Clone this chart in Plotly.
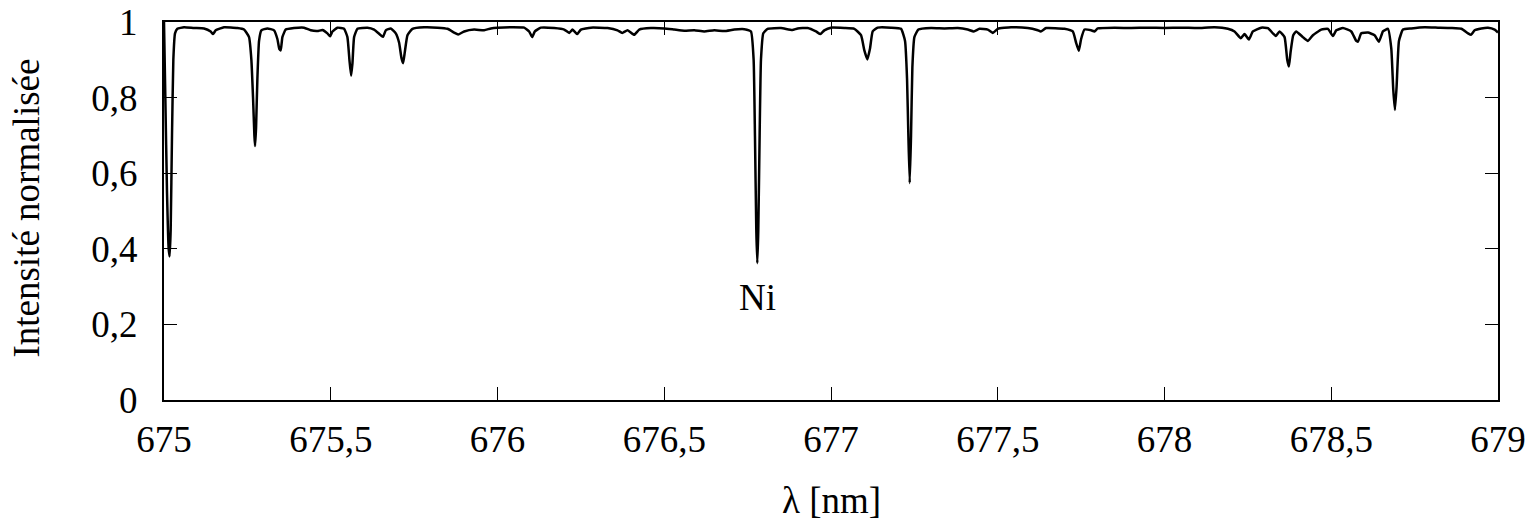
"""Normalised solar spectrum around the Ni 676.78 nm line."""

import plotly.graph_objects as go

# wavelength (nm) and normalised intensity
wavelength = [
    675.000, 675.004, 675.009, 675.014, 675.017, 675.020, 675.024, 675.028, 675.033, 675.040,
    675.060, 675.090, 675.120, 675.140, 675.147, 675.155, 675.180, 675.220, 675.240, 675.255,
    675.262, 675.267, 675.271, 675.273, 675.276, 675.280, 675.285, 675.292, 675.310, 675.330,
    675.340, 675.346, 675.350, 675.355, 675.365, 675.390, 675.420, 675.440, 675.460, 675.475,
    675.490, 675.498, 675.505, 675.520, 675.540, 675.550, 675.556, 675.561, 675.565, 675.570,
    675.580, 675.610, 675.630, 675.650, 675.657, 675.665, 675.680, 675.695, 675.705, 675.712,
    675.717, 675.722, 675.730, 675.745, 675.780, 675.820, 675.850, 675.870, 675.882, 675.900,
    675.930, 675.960, 675.980, 676.000, 676.040, 676.080, 676.095, 676.104, 676.112, 676.130,
    676.170, 676.200, 676.215, 676.225, 676.239, 676.250, 676.280, 676.330, 676.360, 676.374,
    676.390, 676.410, 676.425, 676.460, 676.500, 676.530, 676.560, 676.590, 676.620, 676.650,
    676.680, 676.710, 676.740, 676.760, 676.768, 676.772, 676.776, 676.779, 676.782, 676.786,
    676.790, 676.797, 676.810, 676.850, 676.884, 676.900, 676.930, 676.955, 676.968, 676.980,
    677.000, 677.040, 677.070, 677.090, 677.100, 677.109, 677.117, 677.125, 677.140, 677.180,
    677.210, 677.222, 677.228, 677.232, 677.236, 677.240, 677.244, 677.250, 677.262, 677.300,
    677.340, 677.380, 677.410, 677.428, 677.445, 677.470, 677.485, 677.500, 677.540, 677.590,
    677.620, 677.629, 677.645, 677.700, 677.725, 677.735, 677.743, 677.750, 677.760, 677.780,
    677.790, 677.800, 677.850, 677.900, 677.950, 678.000, 678.050, 678.100, 678.150, 678.190,
    678.210, 678.229, 678.240, 678.253, 678.265, 678.290, 678.310, 678.325, 678.334, 678.345,
    678.360, 678.368, 678.373, 678.378, 678.386, 678.395, 678.415, 678.430, 678.445, 678.470,
    678.490, 678.505, 678.515, 678.535, 678.560, 678.575, 678.580, 678.590, 678.610, 678.630,
    678.643, 678.655, 678.670, 678.680, 678.686, 678.691, 678.696, 678.703, 678.715, 678.740,
    678.780, 678.820, 678.860, 678.890, 678.910, 678.919, 678.930, 678.950, 678.970, 678.990,
    679.000,
]
intensity = [
    1.000, 0.800, 0.550, 0.400, 0.380, 0.450, 0.700, 0.900, 0.970, 0.982,
    0.986, 0.984, 0.983, 0.975, 0.968, 0.978, 0.986, 0.984, 0.980, 0.960,
    0.900, 0.800, 0.700, 0.672, 0.720, 0.850, 0.950, 0.978, 0.983, 0.978,
    0.955, 0.928, 0.925, 0.960, 0.980, 0.984, 0.985, 0.978, 0.976, 0.979,
    0.970, 0.962, 0.975, 0.985, 0.982, 0.960, 0.900, 0.858, 0.890, 0.960,
    0.982, 0.985, 0.980, 0.965, 0.961, 0.978, 0.983, 0.970, 0.945, 0.905,
    0.891, 0.920, 0.965, 0.982, 0.986, 0.985, 0.982, 0.972, 0.967, 0.975,
    0.980, 0.978, 0.983, 0.985, 0.986, 0.985, 0.975, 0.960, 0.975, 0.985,
    0.984, 0.980, 0.971, 0.980, 0.968, 0.980, 0.985, 0.984, 0.978, 0.971,
    0.978, 0.966, 0.980, 0.984, 0.983, 0.980, 0.977, 0.978, 0.975, 0.978,
    0.976, 0.980, 0.981, 0.975, 0.900, 0.700, 0.450, 0.362, 0.450, 0.700,
    0.900, 0.970, 0.982, 0.984, 0.979, 0.983, 0.984, 0.975, 0.968, 0.978,
    0.985, 0.984, 0.982, 0.965, 0.925, 0.901, 0.930, 0.975, 0.985, 0.985,
    0.982, 0.950, 0.850, 0.700, 0.574, 0.700, 0.880, 0.960, 0.980, 0.984,
    0.983, 0.984, 0.980, 0.975, 0.982, 0.980, 0.971, 0.982, 0.986, 0.984,
    0.978, 0.975, 0.984, 0.982, 0.975, 0.945, 0.924, 0.955, 0.980, 0.978,
    0.975, 0.983, 0.985, 0.984, 0.985, 0.984, 0.985, 0.984, 0.986, 0.982,
    0.975, 0.957, 0.968, 0.954, 0.975, 0.985, 0.984, 0.970, 0.963, 0.975,
    0.960, 0.900, 0.882, 0.920, 0.965, 0.975, 0.960, 0.950, 0.965, 0.980,
    0.982, 0.963, 0.978, 0.984, 0.975, 0.950, 0.948, 0.970, 0.972, 0.965,
    0.948, 0.975, 0.982, 0.930, 0.820, 0.767, 0.830, 0.950, 0.980, 0.983,
    0.986, 0.985, 0.984, 0.982, 0.970, 0.966, 0.978, 0.983, 0.985, 0.980,
    0.972,
]

x_ticks = [675, 675.5, 676, 676.5, 677, 677.5, 678, 678.5, 679]
y_ticks = [0, 0.2, 0.4, 0.6, 0.8, 1]
x_title = "λ [nm]"
y_title = "Intensité normalisée"
label_text, label_x, label_y = "Ni", 676.78, 0.27

FONT = dict(family="Liberation Serif", size=37, color="black")

fig = go.Figure(go.Scatter(
    x=wavelength, y=intensity, mode="lines",
    line=dict(color="black", width=2.5, shape="spline", smoothing=0.4), showlegend=False,
))
fig.add_annotation(x=label_x, y=label_y, text=label_text, showarrow=False, font=FONT)

# axis titles as paper annotations so their position can be pinned exactly
fig.add_annotation(x=0.5, y=-0.265, xref="paper", yref="paper", text=x_title,
                   showarrow=False, font=FONT, xanchor="center", yanchor="middle")
fig.add_annotation(x=-0.103, y=0.508, xref="paper", yref="paper", text=y_title,
                   showarrow=False, font=FONT, textangle=-90, xanchor="center", yanchor="middle")

axis_common = dict(
    showline=True, linecolor="black", linewidth=2, mirror="ticks",
    ticks="inside", ticklen=13, tickwidth=1, tickcolor="black",
    showgrid=False, zeroline=False, tickfont=FONT, automargin=False,
)
fig.update_xaxes(range=[675, 679], tickvals=x_ticks, ticklabelstandoff=6, **axis_common)
fig.update_yaxes(range=[0, 1], tickvals=y_ticks, ticklabelstandoff=17, **axis_common)
fig.update_layout(
    width=1534, height=530, separators=", ",
    margin=dict(l=164, r=36, t=22, b=130),
    paper_bgcolor="white", plot_bgcolor="white", font=FONT,
)

# drop the browser's default body margin so the figure sits at the page origin
fig.write_html("out.html", config={"displayModeBar": False},
               post_script="document.body.style.margin = '0';")
